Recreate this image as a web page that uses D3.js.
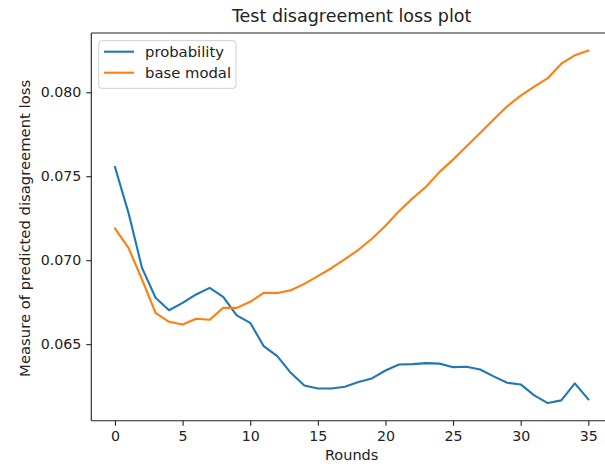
<!DOCTYPE html>
<html>
<head>
<meta charset="utf-8">
<script src="https://cdn.jsdelivr.net/npm/d3@7"></script>
<style>
  html, body { margin: 0; padding: 0; background: #fff; }
  svg { display: block; font-family: "DejaVu Sans", sans-serif; }
</style>
</head>
<body>
<svg id="chart" width="605" height="464"></svg>
<script>
// Rounds 0..35
const rounds = d3.range(0, 36);

// Measure of predicted disagreement loss per round
const probability = [
  0.07555, 0.07282, 0.06954, 0.06776, 0.06702, 0.06746, 0.06796, 0.06835, 0.06782, 0.06671,
  0.06627, 0.06488, 0.06429, 0.06329, 0.06254, 0.06236, 0.06236, 0.06246, 0.06274, 0.06296,
  0.06343, 0.06379, 0.06381, 0.06387, 0.06384, 0.06363, 0.06365, 0.06349, 0.06308, 0.06270,
  0.06260, 0.06195, 0.06149, 0.06165, 0.06266, 0.06171
];
const baseModal = [
  0.07189, 0.07073, 0.06885, 0.06686, 0.06633, 0.06617, 0.06651, 0.06645, 0.06716, 0.06716,
  0.06752, 0.06806, 0.06805, 0.06821, 0.06859, 0.06905, 0.06952, 0.07006, 0.07062, 0.07128,
  0.07205, 0.07292, 0.07368, 0.07437, 0.07526, 0.07599, 0.07679, 0.07758, 0.07838, 0.07917,
  0.07980, 0.08034, 0.08084, 0.08170, 0.08220, 0.08248
];

const seriesNames = ["probability", "base modal"];
const seriesColors = ["#1f77b4", "#ff7f0e"];
const xTicks = [0, 5, 10, 15, 20, 25, 30, 35];
const yTicks = [0.065, 0.070, 0.075, 0.080];

const titleText = "Test disagreement loss plot";
const xLabel = "Rounds";
const yLabel = "Measure of predicted disagreement loss";

// Axes box (the right edge runs past the visible canvas)
const box = { left: 91.3, right: 612, top: 33, bottom: 420.7 };
const textColor = "#222";
const fontSize = "14.5px";

const svg = d3.select("#chart");

// 5% padding on both axes, like the default autoscale
function padded(ext) {
  const d = (ext[1] - ext[0]) * 0.05;
  return [ext[0] - d, ext[1] + d];
}
const x = d3.scaleLinear().domain(padded(d3.extent(rounds))).range([box.left, box.right]);
const allVals = probability.concat(baseModal);
const y = d3.scaleLinear().domain(padded(d3.extent(allVals))).range([box.bottom, box.top]);

// Lines
const series = [probability, baseModal];
const line = d3.line().x((d, i) => x(rounds[i])).y(d => y(d));
series.forEach((vals, k) => {
  svg.append("path")
    .datum(vals)
    .attr("fill", "none")
    .attr("stroke", seriesColors[k])
    .attr("stroke-width", 2.1)
    .attr("stroke-linejoin", "round")
    .attr("stroke-linecap", "square")
    .attr("d", line);
});

// Axes
const xAxis = d3.axisBottom(x).tickValues(xTicks).tickFormat(d3.format("d"))
  .tickSizeInner(5).tickSizeOuter(0).tickPadding(5);
const gx = svg.append("g").attr("transform", `translate(0,${box.bottom})`).call(xAxis);
const yAxis = d3.axisLeft(y).tickValues(yTicks).tickFormat(d3.format(".3f"))
  .tickSizeInner(5).tickSizeOuter(0).tickPadding(5);
const gy = svg.append("g").attr("transform", `translate(${box.left},0)`).call(yAxis);

[gx, gy].forEach(g => {
  g.select(".domain").remove();
  g.selectAll(".tick line").attr("stroke", textColor).attr("stroke-width", 1.1);
  g.selectAll(".tick text").attr("fill", textColor)
    .style("font-size", "14.2px").style("font-family", "DejaVu Sans, sans-serif");
});

// Spines: left, top, bottom
const spine = svg.append("g").attr("stroke", textColor).attr("stroke-width", 1.1).attr("fill", "none");
spine.append("line").attr("x1", box.left).attr("x2", box.left).attr("y1", box.top).attr("y2", box.bottom);
spine.append("line").attr("x1", box.left).attr("x2", box.right).attr("y1", box.top).attr("y2", box.top);
spine.append("line").attr("x1", box.left).attr("x2", box.right).attr("y1", box.bottom).attr("y2", box.bottom);

const cx = (box.left + box.right) / 2;
const cy = (box.top + box.bottom) / 2;

// Title and axis labels
svg.append("text").attr("x", cx).attr("y", 22).attr("text-anchor", "middle")
  .attr("fill", textColor).style("font-size", "17.5px").text(titleText);
svg.append("text").attr("x", cx).attr("y", 460).attr("text-anchor", "middle")
  .attr("fill", textColor).style("font-size", fontSize).text(xLabel);
svg.append("text").attr("transform", `translate(29.5,${cy + 1.5}) rotate(-90)`).attr("text-anchor", "middle")
  .attr("fill", textColor).style("font-size", "14.8px").text(yLabel);

// Legend
const lg = svg.append("g");
lg.append("rect").attr("x", 98.7).attr("y", 40.7).attr("width", 137.3).attr("height", 47.6)
  .attr("rx", 3).attr("fill", "#fff").attr("fill-opacity", 0.8)
  .attr("stroke", "#d0d0d0").attr("stroke-width", 1);
seriesNames.forEach((name, k) => {
  const ly = 51.7 + k * 21;
  lg.append("line").attr("x1", 104).attr("x2", 134).attr("y1", ly).attr("y2", ly)
    .attr("stroke", seriesColors[k]).attr("stroke-width", 2.1);
  lg.append("text").attr("x", 145).attr("y", ly).attr("dy", "0.35em")
    .attr("fill", textColor).style("font-size", "14.8px").text(name);
});
</script>
</body>
</html>
